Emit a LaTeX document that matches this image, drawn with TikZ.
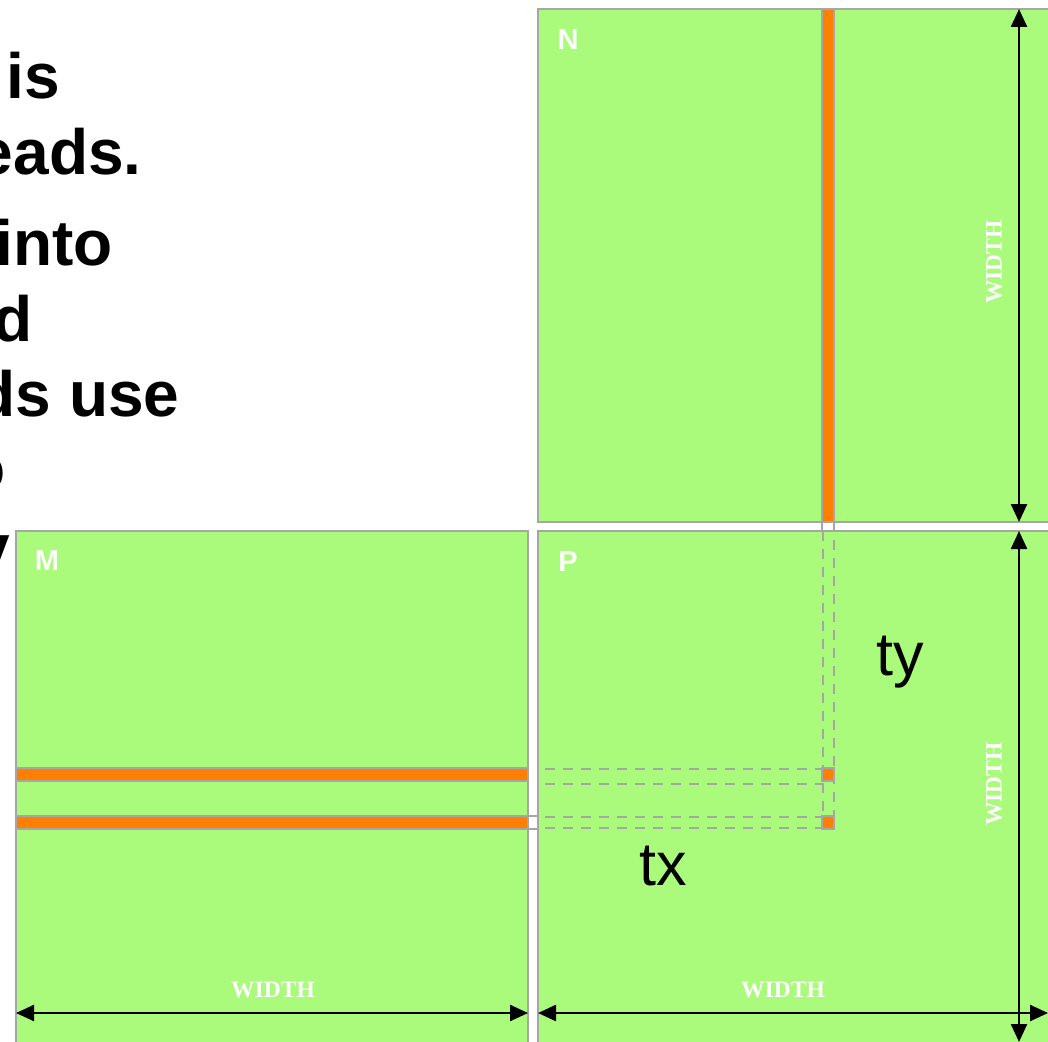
\documentclass[tikz,border=0pt]{standalone}
\usepackage{fontspec}
\setmainfont{Liberation Serif}
\setsansfont{Liberation Sans}
\usetikzlibrary{arrows.meta}

\definecolor{matgreen}{RGB}{170,251,123}
\definecolor{striporange}{RGB}{255,128,0}
\definecolor{edgegray}{RGB}{166,166,166}

\tikzset{
  mat/.style={draw=edgegray, line width=1.4pt, fill=matgreen},
  strip/.style={draw=edgegray, line width=1.3pt, fill=striporange},
  gapbox/.style={draw=edgegray, line width=1.3pt, fill=white},
  guide/.style={draw=edgegray, line width=1.3pt, dash pattern=on 5pt off 4pt},
  dim/.style={{Triangle[length=9pt,width=8pt]}-{Triangle[length=9pt,width=8pt]}, line width=1.2pt},
  dimlabel/.style={text=white, inner sep=0pt, font=\rmfamily\bfseries\fontsize{11.75}{12}\selectfont},
  matlabel/.style={text=white, inner sep=0pt, font=\sffamily\bfseries\fontsize{14.5}{15}\selectfont},
  idx/.style={inner sep=0pt, font=\sffamily\fontsize{30.5}{31}\selectfont},
  slide/.style={inner sep=0pt, anchor=base east, font=\sffamily\bfseries\fontsize{32}{34}\selectfont}
}

\begin{document}
\begin{tikzpicture}[x=0.5pt, y=-0.5pt]
  \useasboundingbox (0,0) rectangle (1048,1042);
  \clip (0,0) rectangle (1048,1042);

  % slide text, cut off at the left
  \node[slide] (l1) at (60,99) {is};
  \node[slide] (l2) at (142,175) {eads.};
  \node[slide] (l3) at (113,266) {into};
  \node[slide] (l4) at (33,342) {d};
  \node[slide] (l5) at (180,417) {ds use};
  \node[slide] (l6) at (6,490) {o};
  \node[slide] (l7) at (10,569) {y};

  % the three matrices
  \draw[mat] (538,9) rectangle (1070,522);
  \draw[mat] (16,531) rectangle (528,1070);
  \draw[mat] (538,531) rectangle (1070,1070);
  \node[matlabel] (N) at (568,40) {N};
  \node[matlabel] (M) at (47,561) {M};
  \node[matlabel] (P) at (568,562) {P};

  % column of N and rows of M
  \draw[strip] (822,9) rectangle (834,522);
  \draw[gapbox] (822,522) rectangle (834,531);
  \draw[strip] (16,768) rectangle (528,781);
  \draw[strip] (16,816) rectangle (528,829);
  \draw[gapbox] (528,816) rectangle (538,829);

  % guides into P
  \draw[guide] (823,531) -- (823,829);
  \draw[guide] (834,540) -- (834,816);
  \draw[guide] (545,769) -- (822,769);
  \draw[guide] (545,784) -- (822,784);
  \draw[guide] (545,817) -- (822,817);
  \draw[guide] (545,828) -- (822,828);
  \draw[strip] (822,768) rectangle (834,781);
  \draw[strip] (822,816) rectangle (834,829);
  \node[idx, anchor=base west] (ty) at (876,675) {ty};
  \node[idx, anchor=base west] (tx) at (639,885) {tx};

  % dimensions
  \coordinate (nT) at (1019,9);
  \coordinate (nB) at (1019,522);
  \coordinate (pT) at (1019,531);
  \coordinate (pB) at (1019,1042);
  \coordinate (mL) at (16,1013);
  \coordinate (mR) at (528,1013);
  \coordinate (pL) at (538,1013);
  \coordinate (pR) at (1048,1013);
  \draw[dim] (nT) -- (nB);
  \draw[dim] (pT) -- (pB);
  \draw[dim] (mL) -- (mR);
  \draw[dim] (pL) -- (pR);
  \node[dimlabel, rotate=90] (wN) at (994,262) {WIDTH};
  \node[dimlabel, rotate=90] (wP) at (994,784) {WIDTH};
  \node[dimlabel] (wM) at (273,990) {WIDTH};
  \node[dimlabel] (wQ) at (783,990) {WIDTH};
\end{tikzpicture}
\end{document}
